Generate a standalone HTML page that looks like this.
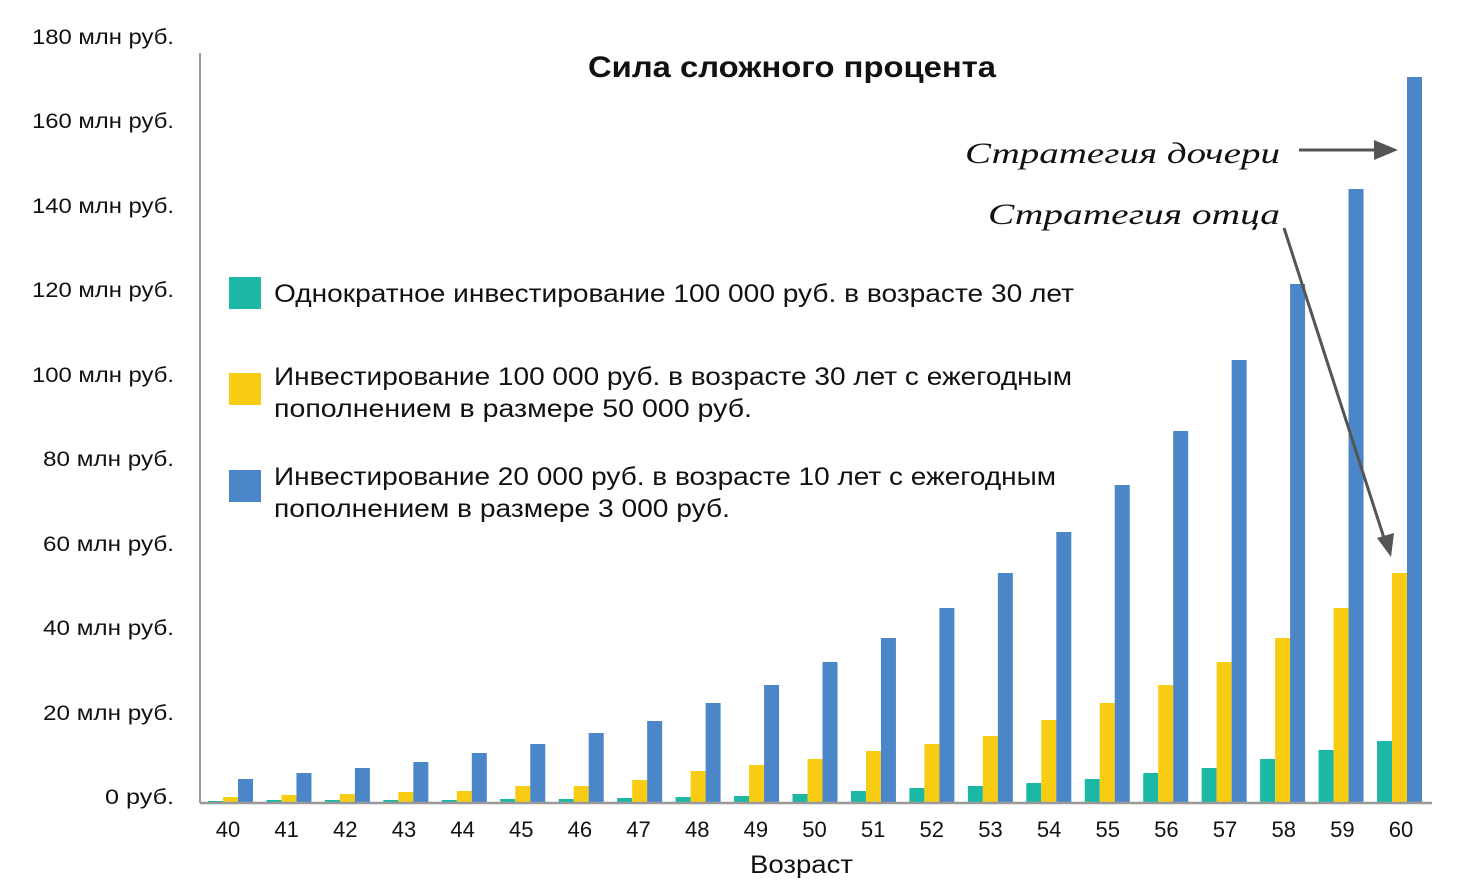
<!DOCTYPE html>
<html><head><meta charset="utf-8"><style>
html,body{margin:0;padding:0;background:#fff;}
svg{display:block;font-family:"Liberation Sans","DejaVu Sans",sans-serif;}
</style></head><body>
<svg width="1467" height="894" viewBox="0 0 1467 894" xmlns="http://www.w3.org/2000/svg">
<rect width="1467" height="894" fill="#fff"/>
<g font-size="21" fill="#111" text-anchor="end" lengthAdjust="spacingAndGlyphs">
<text x="174" y="44" textLength="142" lengthAdjust="spacingAndGlyphs">180 млн  руб.</text>
<text x="174" y="128" textLength="142" lengthAdjust="spacingAndGlyphs">160 млн  руб.</text>
<text x="174" y="213" textLength="142" lengthAdjust="spacingAndGlyphs">140 млн  руб.</text>
<text x="174" y="297" textLength="142" lengthAdjust="spacingAndGlyphs">120 млн  руб.</text>
<text x="174" y="382" textLength="142" lengthAdjust="spacingAndGlyphs">100 млн  руб.</text>
<text x="174" y="466" textLength="131" lengthAdjust="spacingAndGlyphs">80 млн  руб.</text>
<text x="174" y="551" textLength="131" lengthAdjust="spacingAndGlyphs">60 млн  руб.</text>
<text x="174" y="635" textLength="131" lengthAdjust="spacingAndGlyphs">40 млн  руб.</text>
<text x="174" y="720" textLength="131" lengthAdjust="spacingAndGlyphs">20 млн  руб.</text>
<text x="174" y="804" textLength="69" lengthAdjust="spacingAndGlyphs">0 руб.</text>
</g>
<line x1="200" y1="53" x2="200" y2="803" stroke="#999" stroke-width="2"/>
<text x="588" y="77" font-size="30" font-weight="bold" fill="#111" textLength="408" lengthAdjust="spacingAndGlyphs">Сила сложного процента</text>
<g id="bars"></g>
<line x1="200" y1="803" x2="1432" y2="803" stroke="#999" stroke-width="2.5"/>
<g font-size="22" fill="#111" text-anchor="middle" id="xl"></g>
<text x="750" y="873" font-size="25" fill="#111" textLength="103" lengthAdjust="spacingAndGlyphs">Возраст</text>
<rect x="229" y="277" width="32" height="32" fill="#1bb9a5"/>
<text x="274" y="302" font-size="25" fill="#111" textLength="800" lengthAdjust="spacingAndGlyphs">Однократное инвестирование 100 000 руб. в возрасте 30 лет</text>
<rect x="229" y="373" width="32" height="32" fill="#f9cc14"/>
<text x="274" y="385" font-size="25" fill="#111" textLength="798" lengthAdjust="spacingAndGlyphs">Инвестирование 100 000 руб. в возрасте 30 лет с ежегодным</text>
<text x="274" y="417" font-size="25" fill="#111" textLength="478" lengthAdjust="spacingAndGlyphs">пополнением  в размере 50 000 руб.</text>
<rect x="229" y="470" width="32" height="32" fill="#4a86c8"/>
<text x="274" y="485" font-size="25" fill="#111" textLength="782" lengthAdjust="spacingAndGlyphs">Инвестирование 20 000 руб. в возрасте 10 лет с ежегодным</text>
<text x="274" y="517" font-size="25" fill="#111" textLength="456" lengthAdjust="spacingAndGlyphs">пополнением в размере 3 000 руб.</text>
<text x="965" y="163" font-size="30" font-style="italic" fill="#111" font-family="Liberation Serif, serif" textLength="315" lengthAdjust="spacingAndGlyphs">Стратегия дочери</text>
<text x="988" y="224" font-size="30" font-style="italic" fill="#111" font-family="Liberation Serif, serif" textLength="292" lengthAdjust="spacingAndGlyphs">Стратегия отца</text>
<line x1="1299" y1="150" x2="1378" y2="150" stroke="#555" stroke-width="3"/>
<polygon points="1398,150 1374,140 1374,160" fill="#555"/>
<line x1="1284" y1="228" x2="1384" y2="538" stroke="#555" stroke-width="3"/>
<polygon points="1391,557 1377,538 1394,533" fill="#555"/>
</svg>
<script>
var blue=[779,773,768,762,753,744,733,721,703,685,662,638,608,573,532,485,431,360,284,189,77];
var yel=[797,795,794,792,791,786,786,780,771,765,759,751,744,736,720,703,685,662,638,608,573];
var teal=[801,800,800,800,800,799,799,798,797,796,794,791,788,786,783,779,773,768,759,750,741];
var ns="http://www.w3.org/2000/svg",g=document.getElementById("bars"),xl=document.getElementById("xl");
function r(x,y,c){var e=document.createElementNS(ns,"rect");e.setAttribute("x",x);e.setAttribute("y",y);e.setAttribute("width",15);e.setAttribute("height",803-y);e.setAttribute("fill",c);g.appendChild(e);}
for(var i=0;i<21;i++){var c=228+i*58.45;r(c-20,teal[i],"#1bb9a5");r(c-5,yel[i],"#f9cc14");r(c+10,blue[i],"#4a86c8");
var t=document.createElementNS(ns,"text");t.setAttribute("x",228+i*58.65);t.setAttribute("y",837);t.textContent=40+i;xl.appendChild(t);}
</script>
</body></html>
